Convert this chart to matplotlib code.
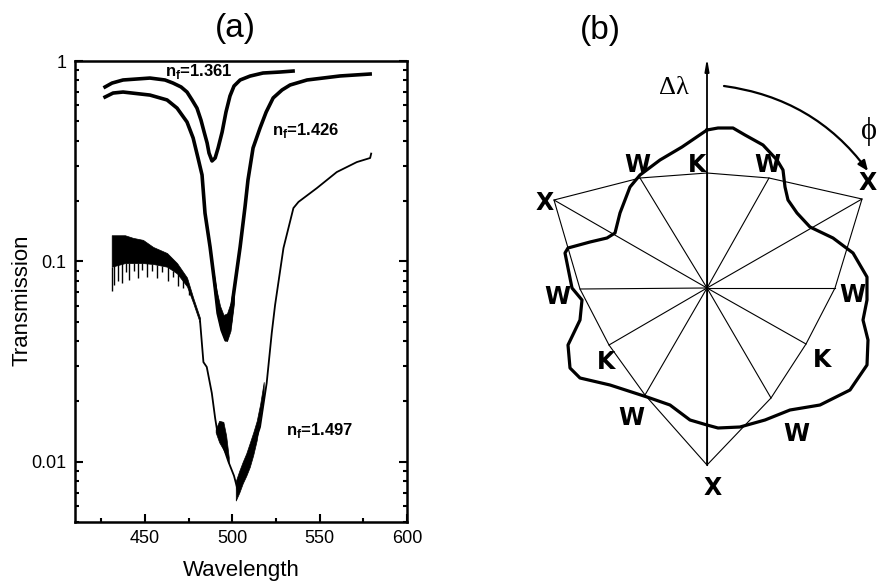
import matplotlib
matplotlib.use('Agg')
import matplotlib.pyplot as plt
from matplotlib.patches import FancyArrowPatch
from matplotlib.ticker import LogLocator, NullFormatter, MultipleLocator

plt.rcParams['font.family'] = 'Liberation Sans'

# ---------------- panel (a): transmission spectra ----------------
wl_1361 = [427.2, 431.2, 437.5, 452.9, 461.5, 466.1, 470.7, 474.1, 477.0, 479.8, 482.1, 483.9,
           485.6, 486.7, 488.4, 490.2, 491.9, 494.2, 496.4, 498.7, 501.0, 504.5, 510.2, 517.6,
           527.4, 534.8]
t_1361 = [0.742, 0.776, 0.804, 0.822, 0.804, 0.776, 0.742, 0.700, 0.639, 0.582, 0.507, 0.442,
          0.390, 0.347, 0.317, 0.328, 0.368, 0.442, 0.556, 0.669, 0.750, 0.804, 0.841, 0.871,
          0.881, 0.891]

wl_1426 = [427.2, 431.8, 437.5, 452.9, 462.7, 468.4, 474.1, 477.6, 480.4, 482.7, 484.4, 487.3,
           490.2, 491.9, 494.2, 496.4, 498.7, 500.5, 504.5, 507.3, 509.0, 511.9, 515.9, 519.4,
           523.4, 528.5, 533.1, 542.8, 561.7, 578.9]
t_1426 = [0.661, 0.692, 0.700, 0.676, 0.639, 0.582, 0.496, 0.413, 0.328, 0.270, 0.174, 0.118,
          0.0744, 0.0552, 0.0454, 0.0405, 0.0481, 0.0663, 0.118, 0.187, 0.255, 0.368, 0.463, 0.556,
          0.654, 0.717, 0.759, 0.804, 0.842, 0.861]
# noisy bottom of the 1.426 dip
wl_1426_band = [489, 491, 493, 495, 497, 499, 501]
lo_1426_band = [0.080, 0.058, 0.047, 0.042, 0.040, 0.045, 0.062]
hi_1426_band = [0.092, 0.072, 0.060, 0.054, 0.055, 0.062, 0.078]

wl_1497 = [481.6, 483.5, 485.4, 488.3, 490.2, 491.5, 494.0, 497.8, 501.0, 503.5, 505.0, 507.3,
           509.0, 512.1, 515.9, 519.7, 522.6, 524.5, 529.3, 535.0, 537.9, 548.4, 559.8, 571.3,
           578.9, 579.5]
t_1497 = [0.050, 0.0314, 0.0297, 0.022, 0.0165, 0.0140, 0.0125, 0.0100, 0.0085, 0.0070, 0.0080,
          0.0088, 0.0100, 0.0118, 0.0149, 0.0247, 0.0439, 0.0605, 0.1165, 0.1845, 0.198, 0.232,
          0.279, 0.313, 0.328, 0.345]
# noise envelopes of the 1.497 spectrum
wl_1497_a = [431, 438.6, 443.2, 448.9, 454.7, 462.7, 468.4, 474.1, 477.6, 481.6]
lo_1497_a = [0.094, 0.098, 0.098, 0.098, 0.097, 0.094, 0.087, 0.075, 0.062, 0.049]
hi_1497_a = [0.135, 0.135, 0.131, 0.128, 0.118, 0.110, 0.098, 0.083, 0.066, 0.052]
spike_wl = [431, 432.5, 434.5, 437, 439, 441, 443.5, 446, 448.5, 451, 454, 457, 460, 463,
            466, 469, 472, 475]
spike_lo = [0.071, 0.076, 0.080, 0.078, 0.088, 0.081, 0.090, 0.083, 0.091, 0.084, 0.089, 0.083,
            0.088, 0.080, 0.084, 0.075, 0.074, 0.068]
spike_hi = [0.094, 0.097, 0.098, 0.098, 0.098, 0.098, 0.098, 0.098, 0.098, 0.098, 0.097, 0.096,
            0.095, 0.094, 0.090, 0.087, 0.081, 0.074]
wl_1497_b = [490.5, 492.5, 494.9, 496.5, 498.0]
lo_1497_b = [0.0140, 0.0125, 0.0115, 0.0108, 0.0098]
hi_1497_b = [0.0145, 0.0160, 0.0158, 0.0135, 0.0105]
wl_1497_c = [502, 504, 506, 508, 510, 512, 514, 516, 518]
lo_1497_c = [0.0064, 0.0070, 0.0078, 0.0085, 0.0094, 0.0108, 0.0128, 0.0165, 0.021]
hi_1497_c = [0.0080, 0.0090, 0.0100, 0.0110, 0.0124, 0.0140, 0.0160, 0.0195, 0.025]

x_ticks = [450, 500, 550, 600]

# ---------------- panel (b): schematic (diagram units) ----------------
vert_names = ['K', 'W', 'X', 'W', 'K', 'W', 'X', 'W', 'K', 'W', 'X', 'W']
vert_u = [0, 62, 155, 128, 99, 64, 0, -62, -98, -127, -153, -67]
vert_v = [115, 110, 89, 0, -56, -110, -177, -107, -57, -1, 88, 110]
label_u = [-10, 60.5, 161, 145.5, 114.7, 89.7, 5.5, -76, -101, -149.5, -162, -70]
label_v = [123, 123, 105, -7, -72, -146, -200, -129.5, -73.7, -8.7, 85, 123]

contour_u = [0, 11, 26, 38, 56, 70, 76, 78, 81, 90, 103, 126, 146, 160, 160, 156, 161, 160,
             143, 113, 83, 58, 33, 11, 0, -17, -37, -60, -97, -127, -137, -139, -127, -125,
             -135, -142, -139, -117, -100, -92, -87, -77, -67, -47, -25, 0]
contour_v = [158, 160, 160, 153, 143, 128, 118, 101, 88, 75, 61, 50, 35, 11, -12, -32, -52, -77,
             -102, -117, -122, -132, -139, -140, -137, -132, -117, -109, -97, -90, -80, -57, -32,
             -12, 0, 35, 40, 46, 50, 55, 75, 101, 113, 128, 141, 158]

fig = plt.figure(figsize=(8.78, 5.83), dpi=100)

# ---- (a) ----
ax = fig.add_axes([75 / 878, 61 / 583, 332 / 878, 461 / 583])
ax.plot(wl_1361, t_1361, color='black', lw=2.6, solid_joinstyle='round')
ax.plot(wl_1426, t_1426, color='black', lw=2.6, solid_joinstyle='round')
ax.fill_between(wl_1426_band, lo_1426_band, hi_1426_band, color='black', lw=0.5)
ax.plot(wl_1497, t_1497, color='black', lw=1.3)
ax.fill_between(wl_1497_a, lo_1497_a, hi_1497_a, color='black', lw=0.5)
ax.vlines(spike_wl, spike_lo, spike_hi, color='black', lw=1.0)
ax.fill_between(wl_1497_b, lo_1497_b, hi_1497_b, color='black', lw=0.5)
ax.fill_between(wl_1497_c, lo_1497_c, hi_1497_c, color='black', lw=0.5)

ax.set_yscale('log')
ax.set_xlim(410, 600)
ax.set_ylim(0.005, 1)
ax.set_xticks(x_ticks)
ax.xaxis.set_minor_locator(MultipleLocator(25))
ax.yaxis.set_minor_locator(LogLocator(base=10, subs=range(2, 10), numticks=20))
ax.yaxis.set_minor_formatter(NullFormatter())
ax.set_yticks([0.01, 0.1, 1])
ax.set_yticklabels(['0.01', '0.1', '1'])
ax.tick_params(which='both', direction='in', right=True, top=False, width=1.5,
               labelsize=13, pad=6)
ax.tick_params(which='major', length=6)
ax.tick_params(which='minor', length=3)
for s in ax.spines.values():
    s.set_linewidth(1.8)
ax.set_xlabel('Wavelength', fontsize=16, labelpad=9)
ax.set_ylabel('Transmission', fontsize=16)
ax.yaxis.set_label_coords(-0.127, 0.48)

ax.text(481, 0.885, r'n$_\mathregular{f}$=1.361', fontsize=12, fontweight='bold',
        ha='center', va='center')
ax.text(542, 0.452, r'n$_\mathregular{f}$=1.426', fontsize=12, fontweight='bold',
        ha='center', va='center')
ax.text(550, 0.0143, r'n$_\mathregular{f}$=1.497', fontsize=12, fontweight='bold',
        ha='center', va='center')
fig.text(235 / 878, 1 - 28 / 583, '(a)', fontsize=24, ha='center', va='center')

# ---- (b) ----
bx = fig.add_axes([500 / 878, 0, 378 / 878, 1])
bx.set_xlim(-207, 171)
bx.set_ylim(-295, 288)
bx.axis('off')

for u, v in zip(vert_u, vert_v):
    bx.plot([0, u], [0, v], color='black', lw=0.8)
bx.plot(vert_u + vert_u[:1], vert_v + vert_v[:1], color='black', lw=0.8)
bx.annotate('', xy=(0, 230), xytext=(0, -177),
            arrowprops=dict(arrowstyle='-|>,head_length=0.7,head_width=0.12',
                            color='black', lw=1.3, shrinkA=0, shrinkB=0))
bx.plot(contour_u, contour_v, color='black', lw=2.3, solid_joinstyle='round')

for name, u, v in zip(vert_names, label_u, label_v):
    bx.text(u, v, name, fontsize=17, fontweight='bold', family='DejaVu Sans',
            ha='center', va='center', clip_on=False)

arc = FancyArrowPatch((17, 202), (161, 117), connectionstyle='arc3,rad=-0.21',
                      arrowstyle='-|>,head_length=6,head_width=2.5', color='black',
                      lw=1.6, shrinkA=0, shrinkB=0)
bx.add_patch(arc)
bx.text(-33, 200, '\u0394\u03bb', fontsize=19, ha='center', va='center',
        family=['Liberation Serif', 'DejaVu Serif'])
bx.text(170, 157, '\u03d5', fontsize=22, ha='right', va='center',
        family=['Liberation Serif', 'DejaVu Serif'], clip_on=False)
fig.text(600 / 878, 1 - 30 / 583, '(b)', fontsize=24, ha='center', va='center')

fig.savefig('out.png', dpi=100)
